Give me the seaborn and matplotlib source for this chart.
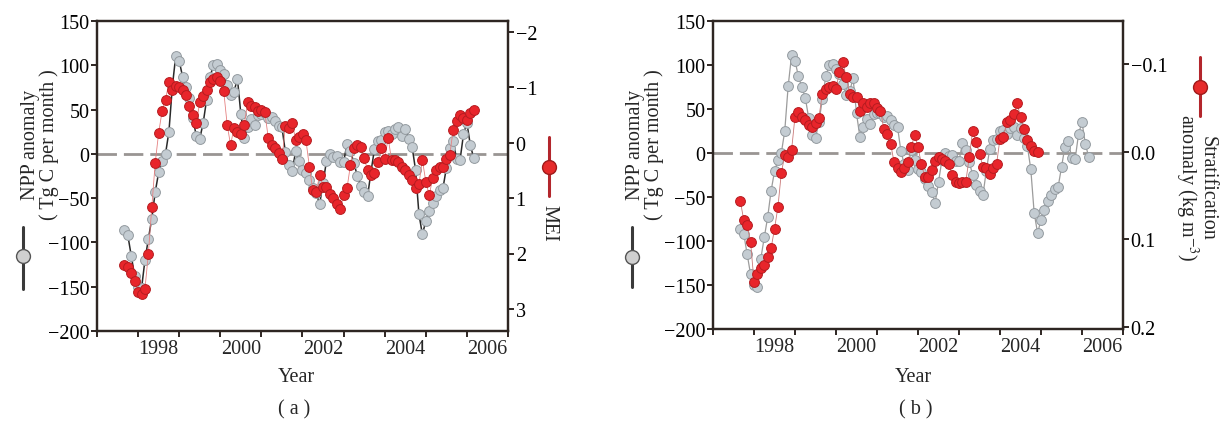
import matplotlib
matplotlib.use("Agg")
import matplotlib.pyplot as plt
from matplotlib.lines import Line2D
import numpy as np
import seaborn as sns

# monthly series, first value = Sep 1997
start_year = 1997 + 8 / 12

npp = [-86, -92, -115, -138,
       -150, -152, -120, -96, -73, -43, -21, -8, 0, 25, 76, 111,
       105, 87, 75, 63, 40, 20, 17, 35, 61, 87, 100, 101,
       95, 90, 78, 66, 70, 85, 45, 18, 30, 39, 33, 44,
       45, 46, 41, 42, 37, 32, 30, 2, -13, -19, 3, -8,
       -18, -22, -30, -38, -44, -57, -33, -8, 0, -3, -2, -9,
       -9, 11, 3, -10, -25, -36, -43, -48, -20, 5, 15, 16,
       25, 26, 22, 28, 30, 20, 28, 17, 8, -18, -68, -91,
       -76, -65, -55, -48, -41, -39, -16, 7, 14, -6, -7, 22,
       35, 10, -5]

mei = [2.2, 2.25, 2.35, 2.5,
       2.7, 2.73, 2.64, 2.0, 1.16, 0.36, -0.18, -0.57, -0.78, -1.09, -0.96, -1.02,
       -1.0, -0.95, -0.87, -0.66, -0.51, -0.36, -0.73, -0.84, -0.96, -1.09, -1.15, -1.18,
       -1.12, -0.93, -0.33, 0.04, -0.27, -0.2, -0.15, -0.33, -0.73, -0.66, -0.64, -0.57,
       -0.6, -0.55, -0.09, 0.04, 0.1, 0.18, 0.3, -0.3, -0.27, -0.36, -0.05, -0.1,
       -0.15, -0.05, 0.43, 0.85, 0.89, 0.58, 0.79, 0.8, 0.92, 1.0, 1.1, 1.2,
       0.95, 0.82, 0.4, 0.1, 0.04, 0.07, 0.28, 0.49, 0.58, 0.55, 0.34, 0.1,
       0.3, -0.09, 0.31, 0.31, 0.35, 0.43, 0.49, 0.58, 0.67, 0.82, 0.75, 0.31,
       0.7, 0.95, 0.64, 0.49, 0.43, 0.43, 0.3, 0.22, -0.24, -0.39, -0.51, -0.45,
       -0.42, -0.54, -0.6]

strat = [0.056, 0.078, 0.084, 0.103,
         0.148, 0.139, 0.133, 0.129, 0.12, 0.11, 0.088, 0.063, 0.024, 0.004, 0.006, -0.002,
         -0.04, -0.045, -0.04, -0.036, -0.03, -0.028, -0.033, -0.039, -0.066, -0.072, -0.074, -0.075,
         -0.072, -0.091, -0.102, -0.085, -0.066, -0.062, -0.062, -0.047, -0.056, -0.051, -0.056, -0.056,
         -0.05, -0.047, -0.026, -0.02, -0.009, 0.012, 0.019, 0.023, 0.019, 0.012, -0.005, -0.019,
         -0.005, 0.014, 0.029, 0.029, 0.021, 0.01, 0.006, 0.008, 0.01, 0.014, 0.027, 0.034,
         0.036, 0.035, 0.034, 0.006, -0.024, -0.011, 0.002, 0.017, 0.019, 0.025, 0.018, 0.014,
         -0.015, -0.017, -0.034, -0.036, -0.043, -0.055, -0.04, -0.026, -0.013, -0.007, -0.001, 0.0]

year_ticks = list(range(1997, 2008))
year_labels = ["1998", "2000", "2002", "2004", "2006"]

t_npp = start_year + np.arange(len(npp)) / 12
t_mei = start_year + np.arange(len(mei)) / 12
t_strat = start_year + np.arange(len(strat)) / 12

sns.set_theme(style="ticks")
plt.rcParams['font.family'] = ['Liberation Serif', 'DejaVu Serif']
plt.rcParams['mathtext.fontset'] = 'stix'
plt.rcParams['axes.unicode_minus'] = True

W, H = 1226, 427
fig = plt.figure(figsize=(W / 100, H / 100), dpi=100)

gray_face, gray_edge = '#c4ccd2', '#939a9f'
red_face, red_edge = '#e8252b', '#b51c20'
spine_col = '#2e2622'
FS = 14.5


def fx(px):
    return px / W


def fy(py):
    return 1 - py / H


def style_axes(ax, ax2):
    for a in (ax, ax2):
        for s in a.spines.values():
            s.set_color(spine_col)
            s.set_linewidth(1.6)
        a.tick_params(colors=spine_col, labelcolor='black', labelsize=FS,
                      direction='out', length=4.5, width=1.4, pad=1)
        a.grid(False)
    ax.set_xlim(1997, 2007)
    ax.set_xticks(year_ticks)
    ax.set_xticklabels([])
    ax.set_xticks([int(l) + 0.5 for l in year_labels], minor=True)
    ax.set_xticklabels(year_labels, minor=True)
    ax.tick_params(axis='x', which='minor', length=0, labelsize=FS, pad=6)
    ax.set_ylim(-200, 150)
    ax.set_yticks(range(-200, 151, 50))
    ax.axhline(0, color='#999593', lw=2, ls=(0, (7, 2.5)), zorder=1)
    ax.set_xlabel('')
    ax.set_ylabel('')
    ax2.set_ylabel('')


def draw_series(ax, t, v, line_col, lw, face, edge):
    sns.lineplot(x=t, y=v, ax=ax, color=line_col, lw=lw, sort=False, zorder=3)
    sns.scatterplot(x=t, y=v, ax=ax, s=50, color=face, edgecolor=edge,
                    linewidth=0.7, zorder=4)


def icon(x, y0, y1, yc, line_col, face, edge):
    fig.add_artist(Line2D([fx(x), fx(x)], [fy(y0), fy(y1)], color=line_col, lw=2.2))
    fig.add_artist(Line2D([fx(x)], [fy(yc)], marker='o', ms=10, color=face,
                          markeredgecolor=edge, markeredgewidth=1.0, lw=0))


# ---- panel (a)
ax_a = fig.add_axes([fx(97), fy(332), fx(508 - 97), (332 - 22) / H])
ax_a2 = ax_a.twinx()
draw_series(ax_a, t_npp, npp, '#2a2a2a', 1.1, gray_face, gray_edge)
draw_series(ax_a2, t_mei, mei, '#e58080', 0.6, red_face, red_edge)
ax_a2.set_ylim(3.4, -2.2)
ax_a2.set_yticks([-2, -1, 0, 1, 2, 3])
style_axes(ax_a, ax_a2)

# ---- panel (b)
ax_b = fig.add_axes([fx(713), fy(330), fx(1123 - 713), (330 - 22) / H])
ax_b2 = ax_b.twinx()
draw_series(ax_b, t_npp, npp, '#9c9c9c', 0.9, gray_face, gray_edge)
draw_series(ax_b2, t_strat, strat, '#c87878', 0.6, red_face, red_edge)
ax_b2.set_ylim(0.202, -0.149)
ax_b2.set_yticks([-0.1, 0.0, 0.1, 0.2])
ax_b2.set_yticklabels(['\u22120.1', '0.0', '0.1', '0.2'])
style_axes(ax_b, ax_b2)

# labels and legend icons
ylab = 'NPP anomaly\n( Tg C per month )'
fig.text(fx(40), fy(145), ylab, rotation=90, ha='center', va='center',
         fontsize=FS, linespacing=0.9)
fig.text(fx(645), fy(145), ylab, rotation=90, ha='center', va='center',
         fontsize=FS, linespacing=0.9)
icon(23, 228, 290, 257, '#3a3a3a', '#cfcfcf', '#555555')
icon(632, 228, 288, 258, '#3a3a3a', '#cfcfcf', '#555555')

icon(549, 138, 197, 168, '#b3262c', '#e62a2a', '#9e1a1a')
fig.text(fx(549), fy(223), 'MEI', rotation=-90, ha='center', va='center', fontsize=FS)

icon(1200, 58, 117, 88, '#b3262c', '#e62a2a', '#9e1a1a')
fig.text(fx(1195), fy(188), 'Stratification\nanomaly (kg m$^{-3}$)', rotation=-90,
         ha='center', va='center', fontsize=FS, linespacing=0.9)

fig.text(fx(296), fy(378), 'Year', ha='center', va='center', fontsize=FS)
fig.text(fx(913), fy(378), 'Year', ha='center', va='center', fontsize=FS)
fig.text(fx(294), fy(410), '( a )', ha='center', va='center', fontsize=FS)
fig.text(fx(916), fy(410), '( b )', ha='center', va='center', fontsize=FS)

fig.savefig('out.png', dpi=100)
